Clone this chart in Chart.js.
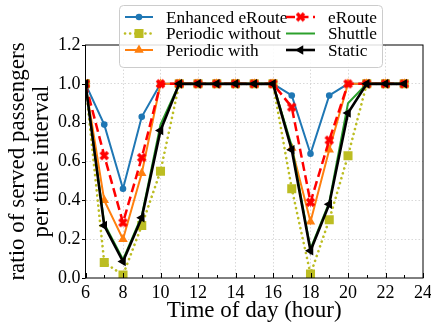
<!DOCTYPE html>
<html>
<head>
<meta charset="utf-8">
<script src="https://cdn.jsdelivr.net/npm/chart.js@4.4.1/dist/chart.umd.min.js"></script>
<style>
  html, body { margin: 0; padding: 0; background: #fff; }
  canvas { display: block; }
</style>
</head>
<body>
<canvas id="chart" width="431" height="329"></canvas>
<script>
// Served-passenger ratio per hour, one array per strategy
const hours = [6, 7, 8, 9, 10, 11, 12, 13, 14, 15, 16, 17, 18, 19, 20, 21, 22, 23]
const enhancedERoute = [1, 0.79, 0.46, 0.83, 1, 1, 1, 1, 1, 1, 1, 0.94, 0.64, 0.94, 1, 1, 1, 1]
const periodicWithout = [1, 0.08, 0.015, 0.27, 0.55, 1, 1, 1, 1, 1, 1, 0.46, 0.02, 0.30, 0.63, 1, 1, 1]
const periodicWith = [1, 0.40, 0.20, 0.54, 1, 1, 1, 1, 1, 1, 1, 0.67, 0.29, 0.66, 1, 1, 1, 1]
const eRoute = [1, 0.63, 0.285, 0.62, 1, 1, 1, 1, 1, 1, 1, 0.88, 0.39, 0.71, 1, 1, 1, 1]
const shuttle = [1, 0.28, 0.095, 0.32, 0.79, 1, 1, 1, 1, 1, 1, 0.68, 0.15, 0.39, 0.90, 1, 1, 1]
const staticRoute = [1, 0.27, 0.085, 0.31, 0.76, 1, 1, 1, 1, 1, 1, 0.66, 0.14, 0.38, 0.85, 1, 1, 1]

const xTicks = [6, 8, 10, 12, 14, 16, 18, 20, 22, 24]
const yTicks = [0, 0.2, 0.4, 0.6, 0.8, 1.0, 1.2]

const SERIF = "'Liberation Serif', 'Times New Roman', serif"

// filled "X" marker like matplotlib's 'X'
function xMarker(color, size) {
  const c = document.createElement("canvas")
  c.width = c.height = size
  const g = c.getContext("2d")
  g.strokeStyle = color
  g.lineWidth = size * 0.32
  g.beginPath()
  g.moveTo(size * 0.18, size * 0.18); g.lineTo(size * 0.82, size * 0.82)
  g.moveTo(size * 0.82, size * 0.18); g.lineTo(size * 0.18, size * 0.82)
  g.stroke()
  return c
}

const pts = ys => hours.map((h, i) => ({ x: h, y: ys[i] }))

const datasets = [
  { label: "Enhanced eRoute", data: pts(enhancedERoute), borderColor: "#1f77b4", backgroundColor: "#1f77b4",
    borderWidth: 2, pointStyle: "circle", pointRadius: 3.3, order: 5 },
  { label: "Periodic without", data: pts(periodicWithout), borderColor: "#bcbd22", backgroundColor: "#bcbd22",
    borderWidth: 2.6, borderDash: [0.1, 5], borderCapStyle: "round", pointStyle: "rect", pointRadius: 6.4, order: 4 },
  { label: "Periodic with", data: pts(periodicWith), borderColor: "#ff7f0e", backgroundColor: "#ff7f0e",
    borderWidth: 2, pointStyle: "triangle", pointRadius: 5.5, order: 3 },
  { label: "eRoute", data: pts(eRoute), borderColor: "#ff0000", backgroundColor: "#ff0000",
    borderWidth: 2.5, borderDash: [9, 4.5], pointStyle: xMarker("#ff0000", 11), pointRadius: 5, order: 2 },
  { label: "Shuttle", data: pts(shuttle), borderColor: "#2ca02c", backgroundColor: "#2ca02c",
    borderWidth: 2, pointRadius: 0, order: 1 },
  { label: "Static", data: pts(staticRoute), borderColor: "#000000", backgroundColor: "#000000",
    borderWidth: 2.6, pointStyle: "triangle", pointRotation: -90, pointRadius: 5.5, order: 0 }
]
datasets.forEach(d => { d.pointBorderWidth = 0; d.tension = 0; d.fill = false })

// frame, ticks, titles and the two-column legend
const decorations = {
  id: "decorations",
  afterDraw(chart) {
    const { ctx, chartArea: a, scales: { x, y } } = chart
    ctx.save()
    ctx.strokeStyle = "#000"
    ctx.lineWidth = 1
    ctx.setLineDash([])
    ctx.strokeRect(a.left, a.top, a.right - a.left, a.bottom - a.top)

    ctx.beginPath()
    for (let h = 6; h <= 24; h++) {
      const px = Math.round(x.getPixelForValue(h)) + 0.5
      const len = h % 2 === 0 ? 5 : 3
      ctx.moveTo(px, a.bottom); ctx.lineTo(px, a.bottom - len)
    }
    // y ticks point outward
    yTicks.forEach(v => {
      const py = Math.round(y.getPixelForValue(v)) + 0.5
      ctx.moveTo(a.left - 3.5, py); ctx.lineTo(a.left, py)
    })
    ctx.stroke()

    ctx.fillStyle = "#000"
    ctx.font = "23px " + SERIF
    ctx.textAlign = "center"
    ctx.textBaseline = "alphabetic"
    ctx.fillText("Time of day (hour)", (a.left + a.right) / 2, 317)
    ctx.save()
    ctx.translate(0, (a.top + a.bottom) / 2)
    ctx.rotate(-Math.PI / 2)
    ctx.fillText("ratio of served passengers", 0, 23.5)
    ctx.fillText("per time interval", 0, 47.5)
    ctx.restore()

    // legend box
    const bx = 119.5, by = 5.5, bw = 263, bh = 62, r = 4
    ctx.beginPath()
    ctx.roundRect(bx, by, bw, bh, r)
    ctx.fillStyle = "rgba(255,255,255,0.85)"
    ctx.fill()
    ctx.strokeStyle = "#cccccc"
    ctx.stroke()

    const rows = [17, 33.5, 50]
    const cols = [{ x0: 125, x1: 153, tx: 166 }, { x0: 286, x1: 315, tx: 328 }]
    datasets.forEach((d, i) => {
      const col = cols[Math.floor(i / 3)]
      const ry = rows[i % 3]
      ctx.save()
      ctx.strokeStyle = d.borderColor
      ctx.lineWidth = d.borderWidth
      ctx.lineCap = d.borderCapStyle || "butt"
      ctx.setLineDash(d.borderDash || [])
      ctx.beginPath()
      ctx.moveTo(col.x0, ry); ctx.lineTo(col.x1, ry)
      ctx.stroke()
      ctx.restore()
      if (d.pointRadius > 0) {
        ctx.save()
        ctx.fillStyle = d.backgroundColor
        ctx.strokeStyle = d.borderColor
        Chart.helpers.drawPoint(ctx, {
          pointStyle: d.pointStyle, rotation: d.pointRotation || 0,
          radius: d.pointRadius, borderWidth: 0
        }, (col.x0 + col.x1) / 2, ry)
        ctx.restore()
      }
      ctx.fillStyle = "#000"
      ctx.font = "17.3px " + SERIF
      ctx.textAlign = "left"
      ctx.textBaseline = "middle"
      ctx.fillText(d.label, col.tx, ry + 1)
    })
    ctx.restore()
  }
}

const gridColor = (ends) => ctx =>
  ends.includes(ctx.tick && ctx.tick.value) ? "rgba(0,0,0,0)" : "#cfcfcf"

new Chart(document.getElementById("chart"), {
  type: "line",
  data: { datasets },
  options: {
    responsive: false,
    animation: false,
    devicePixelRatio: 1,
    layout: { padding: { left: 0, top: 45, right: 8, bottom: 0 } },
    plugins: { legend: { display: false }, tooltip: { enabled: false } },
    scales: {
      x: {
        type: "linear", min: 6, max: 24,
        afterBuildTicks: s => { s.ticks = xTicks.map(v => ({ value: v })) },
        afterFit: s => { s.height = 51; s.paddingLeft = 0; s.paddingRight = 0 },
        ticks: { color: "#000", padding: 4, maxRotation: 0, font: { family: SERIF, size: 18 } },
        grid: { color: gridColor([6, 24]), lineWidth: 0.8, drawTicks: false },
        border: { display: false, dash: [1.5, 2] }
      },
      y: {
        min: 0, max: 1.2,
        afterBuildTicks: s => { s.ticks = yTicks.map(v => ({ value: v })) },
        afterFit: s => { s.width = 85.5; s.paddingTop = 0; s.paddingBottom = 0 },
        ticks: { color: "#000", padding: 5, font: { family: SERIF, size: 18 },
          callback: v => v.toFixed(1) },
        grid: { color: gridColor([0, 1.2]), lineWidth: 0.8, drawTicks: false },
        border: { display: false, dash: [1.5, 2] }
      }
    }
  },
  plugins: [decorations]
})
</script>
</body>
</html>
